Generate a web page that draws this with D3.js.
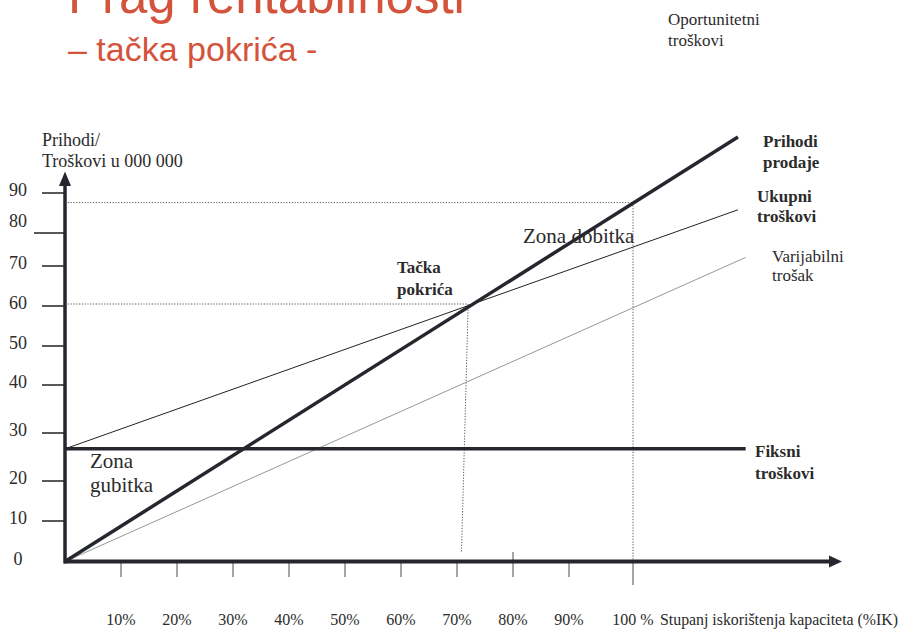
<!DOCTYPE html>
<html>
<head>
<meta charset="utf-8">
<script src="https://cdn.jsdelivr.net/npm/d3@7"></script>
<style>
  body { margin: 0; background: #fff; }
  svg { display: block; }
  .serif { font-family: "Liberation Serif", "Times New Roman", serif; fill: #2b2b2b; }
</style>
</head>
<body>
<svg id="chart" width="902" height="629"></svg>
<script>
// capacity (%) and values (u 000 000)
const yTicks = [0, 10, 20, 30, 40, 50, 60, 70, 80, 90];
const xTicks = [10, 20, 30, 40, 50, 60, 70, 80, 90, 100];
const xTickLabels = ["10%", "20%", "30%", "40%", "50%", "60%", "70%", "80%", "90%", "100 %"];

const revenue = [[0, 0], [116.4, 104]];
const totalCost = [[0, 26.7], [116.4, 85.8]];
const variableCost = [[0, 0], [117.6, 72.6]];
const fixedCost = [[0, 26.7], [117.6, 26.7]];
const breakEven = [72, 60.5];
const breakEvenFoot = [70.8, 2.3];
const fullCapacity = [100, 87.6];

const svg = d3.select('#chart');

// hand drawn axes, so the scales are piecewise
const x = d3.scaleLinear().domain([0, 90, 100]).range([65, 569, 633]);
const y = d3.scaleLinear().domain(yTicks)
  .range([561.5, 521, 481, 433, 385, 346, 306, 266, 233, 193]);

const line = d3.line().x(d => x(d[0])).y(d => y(d[1]));

// title
const red = '#d4533c';
svg.append('text')
  .attr('x', 68).attr('y', 13)
  .attr('font-family', 'Liberation Sans, Arial, sans-serif')
  .attr('font-size', 51)
  .attr('fill', red)
  .text('Prag rentabilnosti');
svg.append('text')
  .attr('x', 68).attr('y', 61)
  .attr('font-family', 'Liberation Sans, Arial, sans-serif')
  .attr('font-size', 34)
  .attr('fill', red)
  .text('– tačka pokrića -');

function lines(selection, rows, size, weight) {
  rows.forEach((r, i) => {
    selection.append('text')
      .attr('class', 'serif')
      .attr('x', r[0]).attr('y', r[1])
      .attr('font-size', size)
      .attr('font-weight', weight || 'normal')
      .text(r[2]);
  });
}

lines(svg, [[668, 25, 'Oportunitetni'], [668, 46, 'troškovi']], 17);
lines(svg, [[42, 146, 'Prihodi/'], [42, 167, 'Troškovi u 000 000']], 18);

// dotted guides
const guide = svg.append('g')
  .attr('fill', 'none')
  .attr('stroke', '#555')
  .attr('stroke-width', 1)
  .attr('stroke-dasharray', '1.2,1.6');
guide.append('path').attr('d', line([[0, fullCapacity[1]], fullCapacity]));
guide.append('path').attr('d', line([fullCapacity, [fullCapacity[0], 0]]));
guide.append('path').attr('d', line([[0, breakEven[1]], breakEven]));
guide.append('path').attr('d', line([breakEven, breakEvenFoot]));

// y ticks
svg.append('g').selectAll('line')
  .data(yTicks.filter(d => d > 0))
  .join('line')
  .attr('x1', d => d === 80 ? 34 : 42)
  .attr('x2', x(0))
  .attr('y1', d => y(d)).attr('y2', d => y(d))
  .attr('stroke', '#222').attr('stroke-width', 1.5);

svg.append('g').selectAll('text')
  .data(yTicks)
  .join('text')
  .attr('class', 'serif')
  .attr('x', 18)
  .attr('y', d => y(d) - (d === 80 ? 12 : 3))
  .attr('dy', '0.35em')
  .attr('text-anchor', 'middle')
  .attr('font-size', 18)
  .text(d => d);

// x ticks
svg.append('g').selectAll('line')
  .data(xTicks)
  .join('line')
  .attr('x1', d => x(d)).attr('x2', d => x(d))
  .attr('y1', d => d === 80 ? 552 : y(0))
  .attr('y2', d => d === 100 ? 585 : 577)
  .attr('stroke', '#888').attr('stroke-width', 1.5);

svg.append('g').selectAll('text')
  .data(xTicks)
  .join('text')
  .attr('class', 'serif')
  .attr('x', d => x(d))
  .attr('y', 625)
  .attr('text-anchor', 'middle')
  .attr('font-size', 16)
  .text((d, i) => xTickLabels[i]);

svg.append('text')
  .attr('class', 'serif')
  .attr('x', 660).attr('y', 625)
  .attr('font-size', 16)
  .attr('textLength', 238).attr('lengthAdjust', 'spacingAndGlyphs')
  .text('Stupanj iskorištenja kapaciteta (%IK)');

// series
svg.append('path').attr('d', line(variableCost))
  .attr('fill', 'none').attr('stroke', '#8e9c93').attr('stroke-width', 1);
svg.append('path').attr('d', line(totalCost))
  .attr('fill', 'none').attr('stroke', '#222').attr('stroke-width', 1);
svg.append('path').attr('d', line(fixedCost))
  .attr('fill', 'none').attr('stroke', '#26262f').attr('stroke-width', 3.5);
svg.append('path').attr('d', line(revenue))
  .attr('fill', 'none').attr('stroke', '#26262f').attr('stroke-width', 3.5);

// axes with arrows
const axisColor = '#26262f';
svg.append('line')
  .attr('x1', x(0)).attr('x2', x(0))
  .attr('y1', y(0) + 2).attr('y2', 185)
  .attr('stroke', axisColor).attr('stroke-width', 3.5);
svg.append('path')
  .attr('d', `M${x(0)},171.5 L${x(0) - 6},186 L${x(0) + 6},186 Z`)
  .attr('fill', axisColor);
svg.append('line')
  .attr('x1', x(0) - 1).attr('x2', 831)
  .attr('y1', y(0)).attr('y2', y(0))
  .attr('stroke', axisColor).attr('stroke-width', 4);
svg.append('path')
  .attr('d', `M842,${y(0)} L829,${y(0) - 6} L829,${y(0) + 6} Z`)
  .attr('fill', axisColor);

// annotations
lines(svg, [[763, 147, 'Prihodi'], [763, 168, 'prodaje']], 17, 'bold');
lines(svg, [[757, 202, 'Ukupni'], [757, 222, 'troškovi']], 17, 'bold');
lines(svg, [[772, 262, 'Varijabilni'], [772, 281, 'trošak']], 17);
lines(svg, [[755, 457, 'Fiksni'], [755, 479, 'troškovi']], 17, 'bold');
lines(svg, [[397, 273, 'Tačka'], [397, 295, 'pokrića']], 17, 'bold');
lines(svg, [[523, 243, 'Zona dobitka']], 21);
lines(svg, [[90, 468, 'Zona'], [90, 492, 'gubitka']], 21);
</script>
</body>
</html>
